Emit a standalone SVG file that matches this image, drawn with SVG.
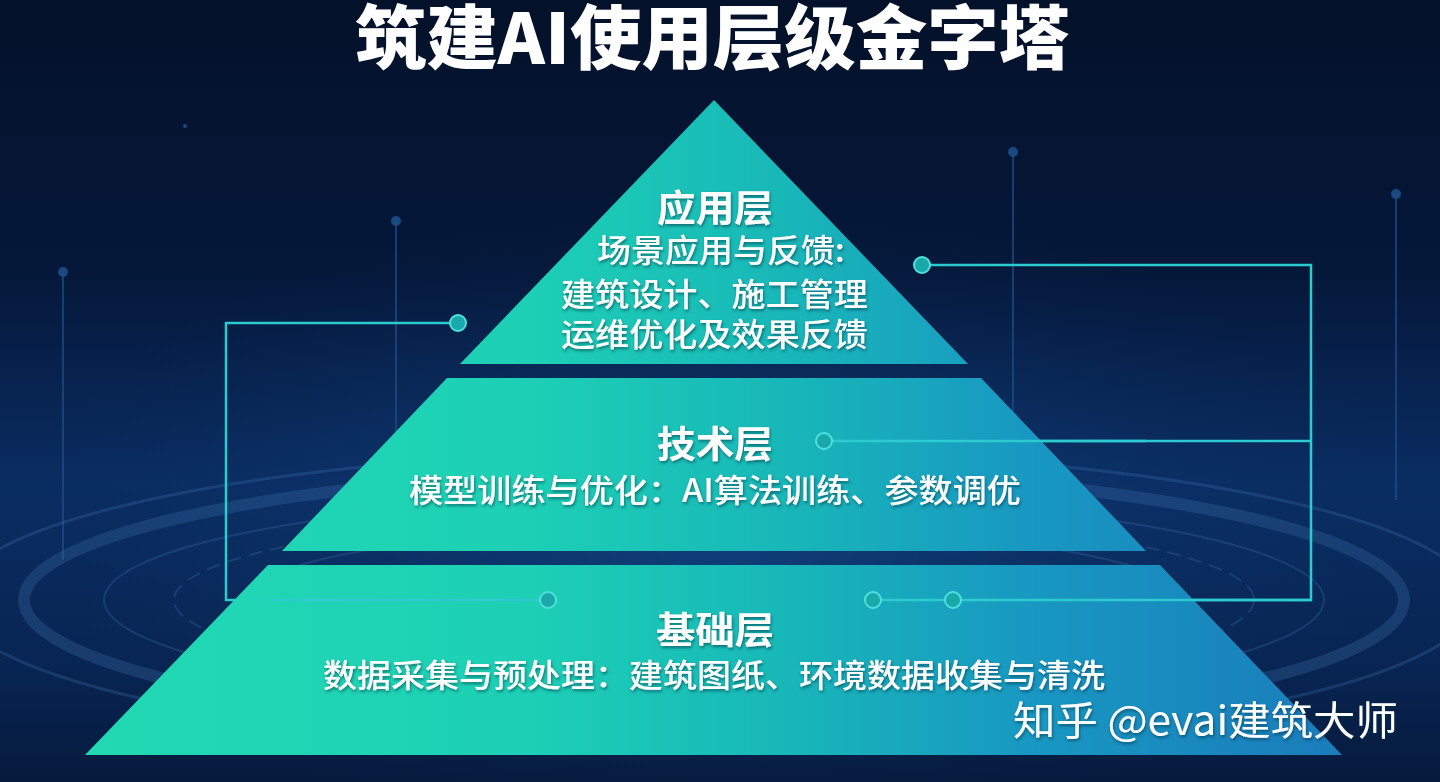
<svg xmlns="http://www.w3.org/2000/svg" width="1440" height="782" viewBox="0 0 1440 782">
  <defs>
    <linearGradient id="bg" x1="0" y1="0" x2="0" y2="1">
      <stop offset="0" stop-color="#04112a"/>
      <stop offset="0.35" stop-color="#05183a"/>
      <stop offset="0.62" stop-color="#0a2d62"/>
      <stop offset="0.85" stop-color="#082553"/>
      <stop offset="1" stop-color="#061a3c"/>
    </linearGradient>
    <radialGradient id="glow" cx="720" cy="520" r="700" gradientUnits="userSpaceOnUse" gradientTransform="translate(720 520) scale(1 0.45) translate(-720 -520)">
      <stop offset="0" stop-color="#1a5aa0" stop-opacity="0.5"/>
      <stop offset="1" stop-color="#0a2a5a" stop-opacity="0"/>
    </radialGradient>
    <linearGradient id="pyr" x1="85" y1="0" x2="1342" y2="0" gradientUnits="userSpaceOnUse">
      <stop offset="0" stop-color="#22d9b3"/>
      <stop offset="0.35" stop-color="#1dd0b5"/>
      <stop offset="0.55" stop-color="#18b8b8"/>
      <stop offset="0.75" stop-color="#1898c2"/>
      <stop offset="1" stop-color="#1a7cbb"/>
    </linearGradient>
    <filter id="ts" x="-5%" y="-20%" width="110%" height="140%">
      <feDropShadow dx="1" dy="2" stdDeviation="1.5" flood-color="#003040" flood-opacity="0.55"/>
    </filter>
    <style>
      .cjk { font-family: "Noto Sans CJK SC", "Noto Sans", sans-serif; fill: #ffffff; }
      .title { font-size: 70px; font-weight: 900; }
      .head { font-size: 37px; font-weight: 700; }
      .sub { font-size: 32px; font-weight: 500; }
      .wm { font-size: 40px; font-weight: 400; }
      .conn { fill: none; stroke: #2ccbd0; stroke-width: 2.5; }
      .dot { fill: #1aa9aa; stroke: #4fe0dc; stroke-width: 2; }
      .deco { stroke: #1d4e8a; stroke-width: 2; fill: none; opacity: 0.7; }
      .decodot { fill: #1d4e8a; opacity: 0.9; }
      .ring { fill: none; stroke: #3d6fa8; opacity: 0.3; }
    </style>
  </defs>

  <!-- background scene -->
  <rect x="0" y="0" width="1440" height="782" fill="url(#bg)"/>
  <rect x="0" y="0" width="1440" height="782" fill="url(#glow)"/>
  <g id="background-deco">
    <line class="deco" x1="63" y1="272" x2="63" y2="560"/>
    <circle class="decodot" cx="63" cy="272" r="5"/>
    <line class="deco" x1="396" y1="221" x2="396" y2="500"/>
    <circle class="decodot" cx="396" cy="221" r="5"/>
    <line class="deco" x1="1013" y1="152" x2="1013" y2="470"/>
    <circle class="decodot" cx="1013" cy="152" r="5"/>
    <line class="deco" x1="1396" y1="194" x2="1396" y2="500"/>
    <circle class="decodot" cx="1396" cy="194" r="5"/>
    <circle class="decodot" cx="185" cy="126" r="2"/>
    <ellipse class="ring" cx="714" cy="600" rx="690" ry="130" stroke-width="12"/>
    <ellipse class="ring" cx="714" cy="600" rx="610" ry="105" stroke-width="2"/>
    <ellipse class="ring" cx="714" cy="600" rx="540" ry="88" stroke-width="2" stroke-dasharray="14 8"/>
    <ellipse class="ring" cx="714" cy="600" rx="470" ry="74" stroke-width="2"/>
    <ellipse class="ring" cx="714" cy="600" rx="760" ry="150" stroke-width="3"/>
  </g>

  <!-- connectors -->
  <g id="connectors">
    <polyline class="conn" points="458,323 226,323 226,600 548,600"/>
    <polyline class="conn" points="922,265 1311,265 1311,600 873,600"/>
    <line class="conn" x1="824" y1="441" x2="1311" y2="441"/>
  </g>

  <!-- title -->
  <g id="title">
    <text class="cjk title" x="355" y="64" textLength="715" lengthAdjust="spacingAndGlyphs">筑建AI使用层级金字塔</text>
  </g>

  <!-- top tier -->
  <g id="tier-application">
    <polygon points="714,100 968,364 460,364" fill="url(#pyr)"/>
    <g filter="url(#ts)">
      <text class="cjk head" x="657" y="222" textLength="116" lengthAdjust="spacingAndGlyphs">应用层</text>
      <text class="cjk sub" x="597" y="262" textLength="248" lengthAdjust="spacingAndGlyphs">场景应用与反馈:</text>
      <text class="cjk sub" x="561" y="306" textLength="307" lengthAdjust="spacingAndGlyphs">建筑设计、施工管理</text>
      <text class="cjk sub" x="561" y="346" textLength="307" lengthAdjust="spacingAndGlyphs">运维优化及效果反馈</text>
    </g>
  </g>

  <!-- middle tier -->
  <g id="tier-technology">
    <polygon points="447,378 981,378 1146,551 282,551" fill="url(#pyr)"/>
    <g filter="url(#ts)">
      <text class="cjk head" x="657" y="458" textLength="116" lengthAdjust="spacingAndGlyphs">技术层</text>
      <text class="cjk sub" x="409" y="502" textLength="612" lengthAdjust="spacingAndGlyphs">模型训练与优化：AI算法训练、参数调优</text>
    </g>
  </g>

  <!-- bottom tier -->
  <g id="tier-foundation">
    <polygon points="268,565 1160,565 1342,755 85,755" fill="url(#pyr)"/>
    <g filter="url(#ts)">
      <text class="cjk head" x="656" y="644" textLength="118" lengthAdjust="spacingAndGlyphs">基础层</text>
      <text class="cjk sub" x="323" y="687" textLength="782" lengthAdjust="spacingAndGlyphs">数据采集与预处理：建筑图纸、环境数据收集与清洗</text>
    </g>
  </g>

  <!-- connector segments and dots drawn over the pyramid -->
  <g id="connector-dots">
    <line class="conn" x1="548" y1="600" x2="268" y2="600"/>
    <line class="conn" x1="873" y1="600" x2="1311" y2="600"/>
    <line class="conn" x1="824" y1="441" x2="1146" y2="441"/>
    <circle class="dot" cx="458" cy="323" r="8"/>
    <circle class="dot" cx="922" cy="265" r="8"/>
    <circle class="dot" cx="824" cy="441" r="8"/>
    <circle class="dot" cx="548" cy="600" r="8"/>
    <circle class="dot" cx="873" cy="600" r="8"/>
    <circle class="dot" cx="953" cy="600" r="8"/>
  </g>

  <!-- watermark -->
  <g id="watermark" filter="url(#ts)">
    <text class="cjk wm" x="1013" y="735" textLength="385" lengthAdjust="spacingAndGlyphs">知乎 @evai建筑大师</text>
  </g>
</svg>
